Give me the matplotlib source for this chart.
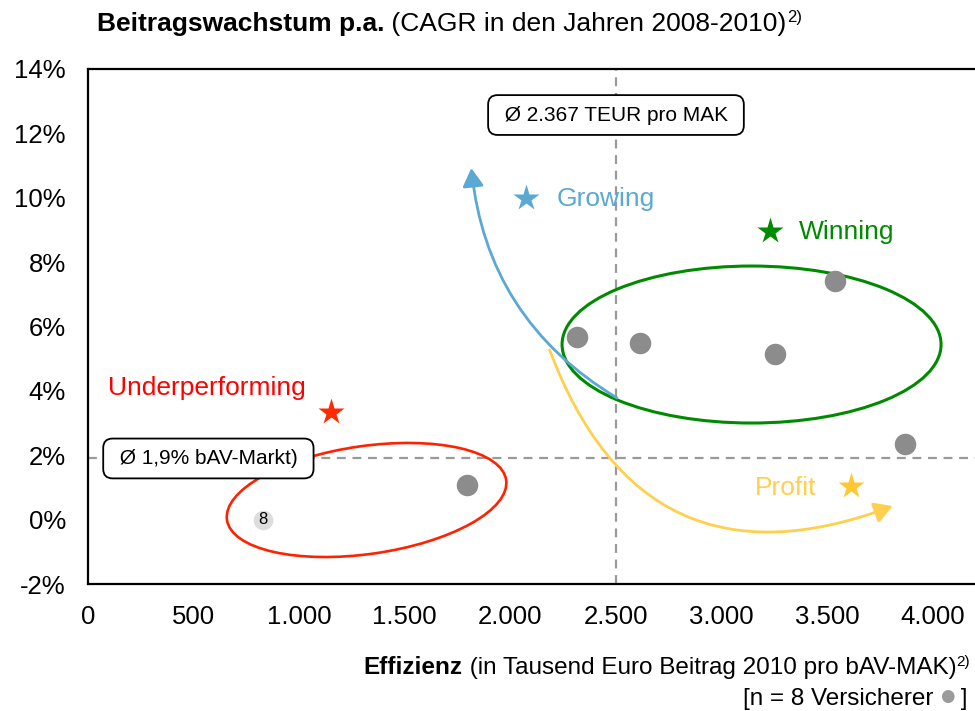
import matplotlib
matplotlib.use("Agg")
import matplotlib.pyplot as plt
from matplotlib.patches import Ellipse, FancyArrowPatch
from matplotlib.transforms import ScaledTranslation

plt.rcParams['font.family'] = ['Liberation Sans', 'DejaVu Sans']

# ---------------- data ----------------
insurer_x = [1795, 2315, 2615, 3255, 3535, 3870]
insurer_y = [1.08, 5.68, 5.48, 5.15, 7.42, 2.35]
marked_x = [830]
marked_y = [0.0]
marked_label = ["8"]

avg_efficiency = 2500          # position of vertical average line
avg_efficiency_label = "Ø 2.367 TEUR pro MAK"
avg_growth = 1.9
avg_growth_label = "Ø 1,9% bAV-Markt)"

segments = ["Growing", "Winning", "Underperforming", "Profit"]
star_x = [2075, 3230, 1150, 3615]
star_y = [10.0, 8.97, 3.35, 1.05]
seg_text_x = [2220, 3365, 95, 3160]
seg_text_y = [9.95, 8.94, 4.08, 0.98]

x_ticks = [0, 500, 1000, 1500, 2000, 2500, 3000, 3500, 4000]
x_ticklabels = ["0", "500", "1.000", "1.500", "2.000", "2.500", "3.000", "3.500", "4.000"]
y_ticks = [-2, 0, 2, 4, 6, 8, 10, 12, 14]
y_ticklabels = ["-2%", "0%", "2%", "4%", "6%", "8%", "10%", "12%", "14%"]

# ---------------- styles ----------------
W, H = 975, 711
GRAY = "#8c8c8c"
BLUE = "#5ba8d4"
GREEN = "#008a00"
RED = "#ff0000"
RED_LINE = "#ff2200"
YELLOW = "#ffd04d"
seg_text_colors = [BLUE, GREEN, RED, YELLOW]
seg_star_colors = [BLUE, GREEN, "#ff2a00", "#ffc833"]

fig = plt.figure(figsize=(W / 100, H / 100), dpi=100)
ax = fig.add_axes([88 / W, 1 - 584 / H, 1 - 88 / W, (584 - 69) / H])
ax.set_xlim(0, 4200)
ax.set_ylim(-2, 14)

for s in ["left", "bottom", "top"]:
    ax.spines[s].set_linewidth(1.6)
    ax.spines[s].set_color("black")
ax.spines["right"].set_visible(False)

ax.set_xticks(x_ticks)
ax.set_xticklabels(x_ticklabels)
ax.set_yticks(y_ticks)
ax.set_yticklabels(y_ticklabels)
ax.tick_params(axis="both", length=0, labelsize=18.5)
ax.tick_params(axis="x", pad=15)
ax.tick_params(axis="y", pad=16)

# average lines
ax.axvline(avg_efficiency, color="#9a9a9a", lw=1.6, ls=(0, (4, 3)), zorder=1)
ax.axhline(avg_growth, color="#9a9a9a", lw=1.6, ls=(0, (4, 3)), zorder=1)

# ellipses (sizes in pixels, centred in data coordinates)
def ellipse(cx, cy, w_px, h_px, angle, color, lw):
    tr = fig.dpi_scale_trans + ScaledTranslation(cx, cy, ax.transData)
    e = Ellipse((0, 0), w_px / 100, h_px / 100, angle=angle, transform=tr,
                fill=False, edgecolor=color, lw=lw, zorder=2)
    ax.add_artist(e)

ellipse(3142, 5.44, 379, 157, 0, GREEN, 2.2)
ellipse(1319, 0.61, 282, 108, 8.1, RED_LINE, 1.9)

# curved arrows
def arrow(p0, p1, rad, color):
    a = FancyArrowPatch(p0, p1, connectionstyle=f"arc3,rad={rad}",
                        arrowstyle="-|>,head_length=0.55,head_width=0.32",
                        mutation_scale=20, color=color, lw=2.0,
                        shrinkA=0, shrinkB=0, zorder=3)
    ax.add_patch(a)

arrow((2505, 3.78), (1815, 10.92), -0.25, BLUE)
arrow((2186, 5.27), (3810, 0.42), 0.5, YELLOW)

# points
ax.scatter(insurer_x, insurer_y, s=240, color=GRAY, zorder=5, linewidths=0)
ax.scatter(marked_x, marked_y, s=200, color="#dddddd", zorder=5, linewidths=0)
for x, y, t in zip(marked_x, marked_y, marked_label):
    ax.text(x, y, t, ha="center", va="center", fontsize=12, zorder=6)

# segment stars and labels
for name, sx, sy, tx, ty, tc, sc in zip(segments, star_x, star_y, seg_text_x,
                                        seg_text_y, seg_text_colors, seg_star_colors):
    ax.plot([sx], [sy], marker="*", ms=20, color=sc, mec="none", zorder=6)
    ax.text(tx, ty, name, color=tc, fontsize=19, ha="left", va="center", zorder=6)

# average boxes
box = dict(boxstyle="round,pad=0.5,rounding_size=0.45", fc="white", ec="black", lw=1.3)
ax.text(avg_efficiency, 12.57, " " + avg_efficiency_label + " ", fontsize=15,
        ha="center", va="center", bbox=box, zorder=7)
ax.text(570, avg_growth, " " + avg_growth_label + " ", fontsize=15,
        ha="center", va="center", bbox=box, zorder=7)

# rich text rows
renderer = fig.canvas.get_renderer()

def row(pieces, x_px, y_px, align="left"):
    texts = []
    x = 0.0
    for s, kw in pieces:
        dy = kw.pop("dy", 0)
        t = fig.text(0, 0, s, ha="left", va="baseline", **kw)
        bb = t.get_window_extent(renderer)
        texts.append((t, x, dy))
        x += bb.width
    start = x_px if align == "left" else x_px - x
    for t, off, dy in texts:
        t.set_position(((start + off) / W, 1 - (y_px - dy) / H))

row([("Beitragswachstum p.a.", dict(fontsize=19, fontweight="bold")),
     (" (CAGR in den Jahren 2008-2010)", dict(fontsize=19)),
     ("2)", dict(fontsize=12, dy=9))], 97, 31)

row([("Effizienz", dict(fontsize=17.5, fontweight="bold")),
     (" (in Tausend Euro Beitrag 2010 pro bAV-MAK)", dict(fontsize=17.5)),
     ("2)", dict(fontsize=11, dy=8))], 970, 674, align="right")

row([("[n = 8 Versicherer ", dict(fontsize=17.5)),
     ("●", dict(fontsize=12, color="#9a9a9a", family=["DejaVu Sans"], dy=4)),
     (" ]", dict(fontsize=17.5))], 968, 705, align="right")

fig.savefig("out.png", dpi=100)
